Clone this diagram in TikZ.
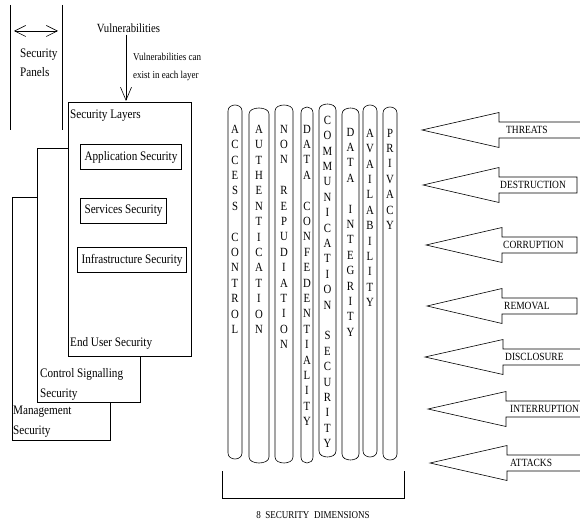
\documentclass[tikz,border=0pt]{standalone}
\usepackage{fontspec}
\setmainfont{Liberation Serif}[FakeStretch=0.86]
\usetikzlibrary{arrows.meta}
\tikzset{
  thinln/.style={line width=0.6pt, black},
  layerbox/.style={draw, line width=0.6pt, fill=white, inner sep=0pt},
  innerbox/.style={draw, line width=0.6pt, inner xsep=4pt, inner ysep=0pt,
    minimum height=25pt, font=\fontsize{13}{15}\selectfont},
  lbl/.style={inner sep=0pt, anchor=west, align=left, font=\fontsize{13}{19.5}\selectfont},
  colln/.style={line width=0.6pt, line join=round},
  dimtext/.style={inner sep=0pt, anchor=north, align=center, font=\fontsize{12.5}{15.4}\selectfont},
  arrowln/.style={line width=0.6pt, line join=miter},
  threatlbl/.style={inner sep=0pt, anchor=west, font=\fontsize{11}{13}\selectfont},
  panelarrow/.style={{Straight Barb[length=11pt,width=11pt]}-{Straight Barb[length=11pt,width=11pt]}, line width=0.6pt},
  vulnarrow/.style={-{Straight Barb[length=13pt,width=11pt]}, line width=0.6pt},
}
% one security dimension: left x, right x, top y, bottom y
\newcommand{\dimcol}[4]{%
  \draw[colln] (#1,#4-6) -- (#1,#3+6) .. controls (#1,#3-2) and (#2,#3-2) .. (#2,#3+6)
    -- (#2,#4-6) .. controls (#2,#4+2) and (#1,#4+2) .. (#1,#4-6) -- cycle;
}
% block arrow: name, tip x, y, head base x, right x, path end, label x, label
\newcommand{\threatarrow}[8]{%
  \draw[arrowln] (#5,#3-8) -- (#4,#3-8) -- (#4,#3-17.5) -- (#2,#3) -- (#4,#3+17.5)
    -- (#4,#3+8) -- (#5,#3+8) #6;
  \node[threatlbl] (#1) at (#7,#3) {#8};
}

\begin{document}
\begin{tikzpicture}[x=1pt,y=-1pt]
  \fill[white] (0,0) rectangle (580,521);
  \useasboundingbox (0,0) rectangle (580,521);
  % security panels
  \draw[thinln] (10,5) -- (10,130);
  \draw[thinln] (62,5) -- (62,130);
  \coordinate (pl) at (14,31);
  \coordinate (pr) at (58,31);
  \draw[panelarrow] (pl) -- (pr);
  \node[lbl] (panels) at (20,63) {Security\\Panels};
  % the three layers, back to front
  \node[layerbox, minimum width=98pt, minimum height=243pt] (mgmt) at (61,318.5) {};
  \node[layerbox, minimum width=103pt, minimum height=254pt] (ctrl) at (88.5,275) {};
  \node[layerbox, minimum width=123pt, minimum height=254pt] (layers) at (129.5,229) {};
  \node[lbl] (mgmttxt) at (13,421.5) {Management\\Security};
  \node[lbl] (ctrltxt) at (40,384.5) {Control Signalling\\Security};
  \node[lbl] (layerstxt) at (70,116) {Security Layers};
  \node[lbl] (endusr) at (70,343) {End User Security};
  \node[innerbox] (app) at (131,157) {Application Security};
  \node[innerbox] (serv) at (123.5,210.5) {Services Security};
  \node[innerbox] (infra) at (132,260) {Infrastructure Security};
  % vulnerabilities
  \node[inner sep=0pt, font=\fontsize{12.5}{15}\selectfont] (vuln) at (128.5,28) {Vulnerabilities};
  \coordinate (vtip) at (126,101);
  \draw[vulnarrow] (vuln.south -| vtip) ++(0,2) -- (vtip);
  \node[inner sep=0pt, anchor=west, align=left, font=\fontsize{10.5}{18}\selectfont]
    (vulntxt) at (133,67) {Vulnerabilities can\\exist in each layer};
  % 8 security dimensions
  \dimcol{228}{242}{105}{459}
  \dimcol{249}{269}{108}{463}
  \dimcol{275}{293}{105}{463}
  \dimcol{301}{313}{107}{463}
  \dimcol{319}{336}{104}{457}
  \dimcol{342}{359}{108}{460}
  \dimcol{363}{377}{105}{457}
  \dimcol{383}{397}{107}{460}
  \node[dimtext] (acc) at (235,124.8) {A\\C\\C\\E\\S\\S\\\mbox{}\\C\\O\\N\\T\\R\\O\\L};
  \node[dimtext] (auth) at (259,124.8) {A\\U\\T\\H\\E\\N\\T\\I\\C\\A\\T\\I\\O\\N};
  \node[dimtext] (nonrep) at (284,124.8) {N\\O\\N\\\mbox{}\\R\\E\\P\\U\\D\\I\\A\\T\\I\\O\\N};
  \node[dimtext] (dconf) at (307,124.8) {D\\A\\T\\A\\\mbox{}\\C\\O\\N\\F\\E\\D\\E\\N\\T\\I\\A\\L\\I\\T\\Y};
  \node[dimtext] (comm) at (327.5,115.8) {C\\O\\M\\M\\U\\N\\I\\C\\A\\T\\I\\O\\N\\\mbox{}\\S\\E\\C\\U\\R\\I\\T\\Y};
  \node[dimtext] (dint) at (350.5,127.8) {D\\A\\T\\A\\\mbox{}\\I\\N\\T\\E\\G\\R\\I\\T\\Y};
  \node[dimtext] (avail) at (370,128.8) {A\\V\\A\\I\\L\\A\\B\\I\\L\\I\\T\\Y};
  \node[dimtext] (priv) at (390,128.8) {P\\R\\I\\V\\A\\C\\Y};
  \draw[thinln] (222,471) -- (222,498) -- (404,498) -- (404,471);
  \node[inner sep=0pt, font=\fontsize{10.5}{12}\selectfont] (dims) at (313,515)
    {8\ \ SECURITY\ \ DIMENSIONS};
  % threats and attacks
  \threatarrow{threats}{422}{130}{499}{580}{}{506}{THREATS}
  \threatarrow{destr}{423}{185}{499}{577}{-- cycle}{500}{DESTRUCTION}
  \threatarrow{corr}{426}{245}{502}{577}{-- cycle}{503}{CORRUPTION}
  \threatarrow{remov}{427}{306}{502}{577}{-- cycle}{504}{REMOVAL}
  \threatarrow{discl}{425}{357}{503}{580}{}{505}{DISCLOSURE}
  \threatarrow{interr}{428}{409}{506}{580}{}{510}{INTERRUPTION}
  \threatarrow{attacks}{430}{463}{507}{580}{}{510}{ATTACKS}
\end{tikzpicture}
\end{document}
